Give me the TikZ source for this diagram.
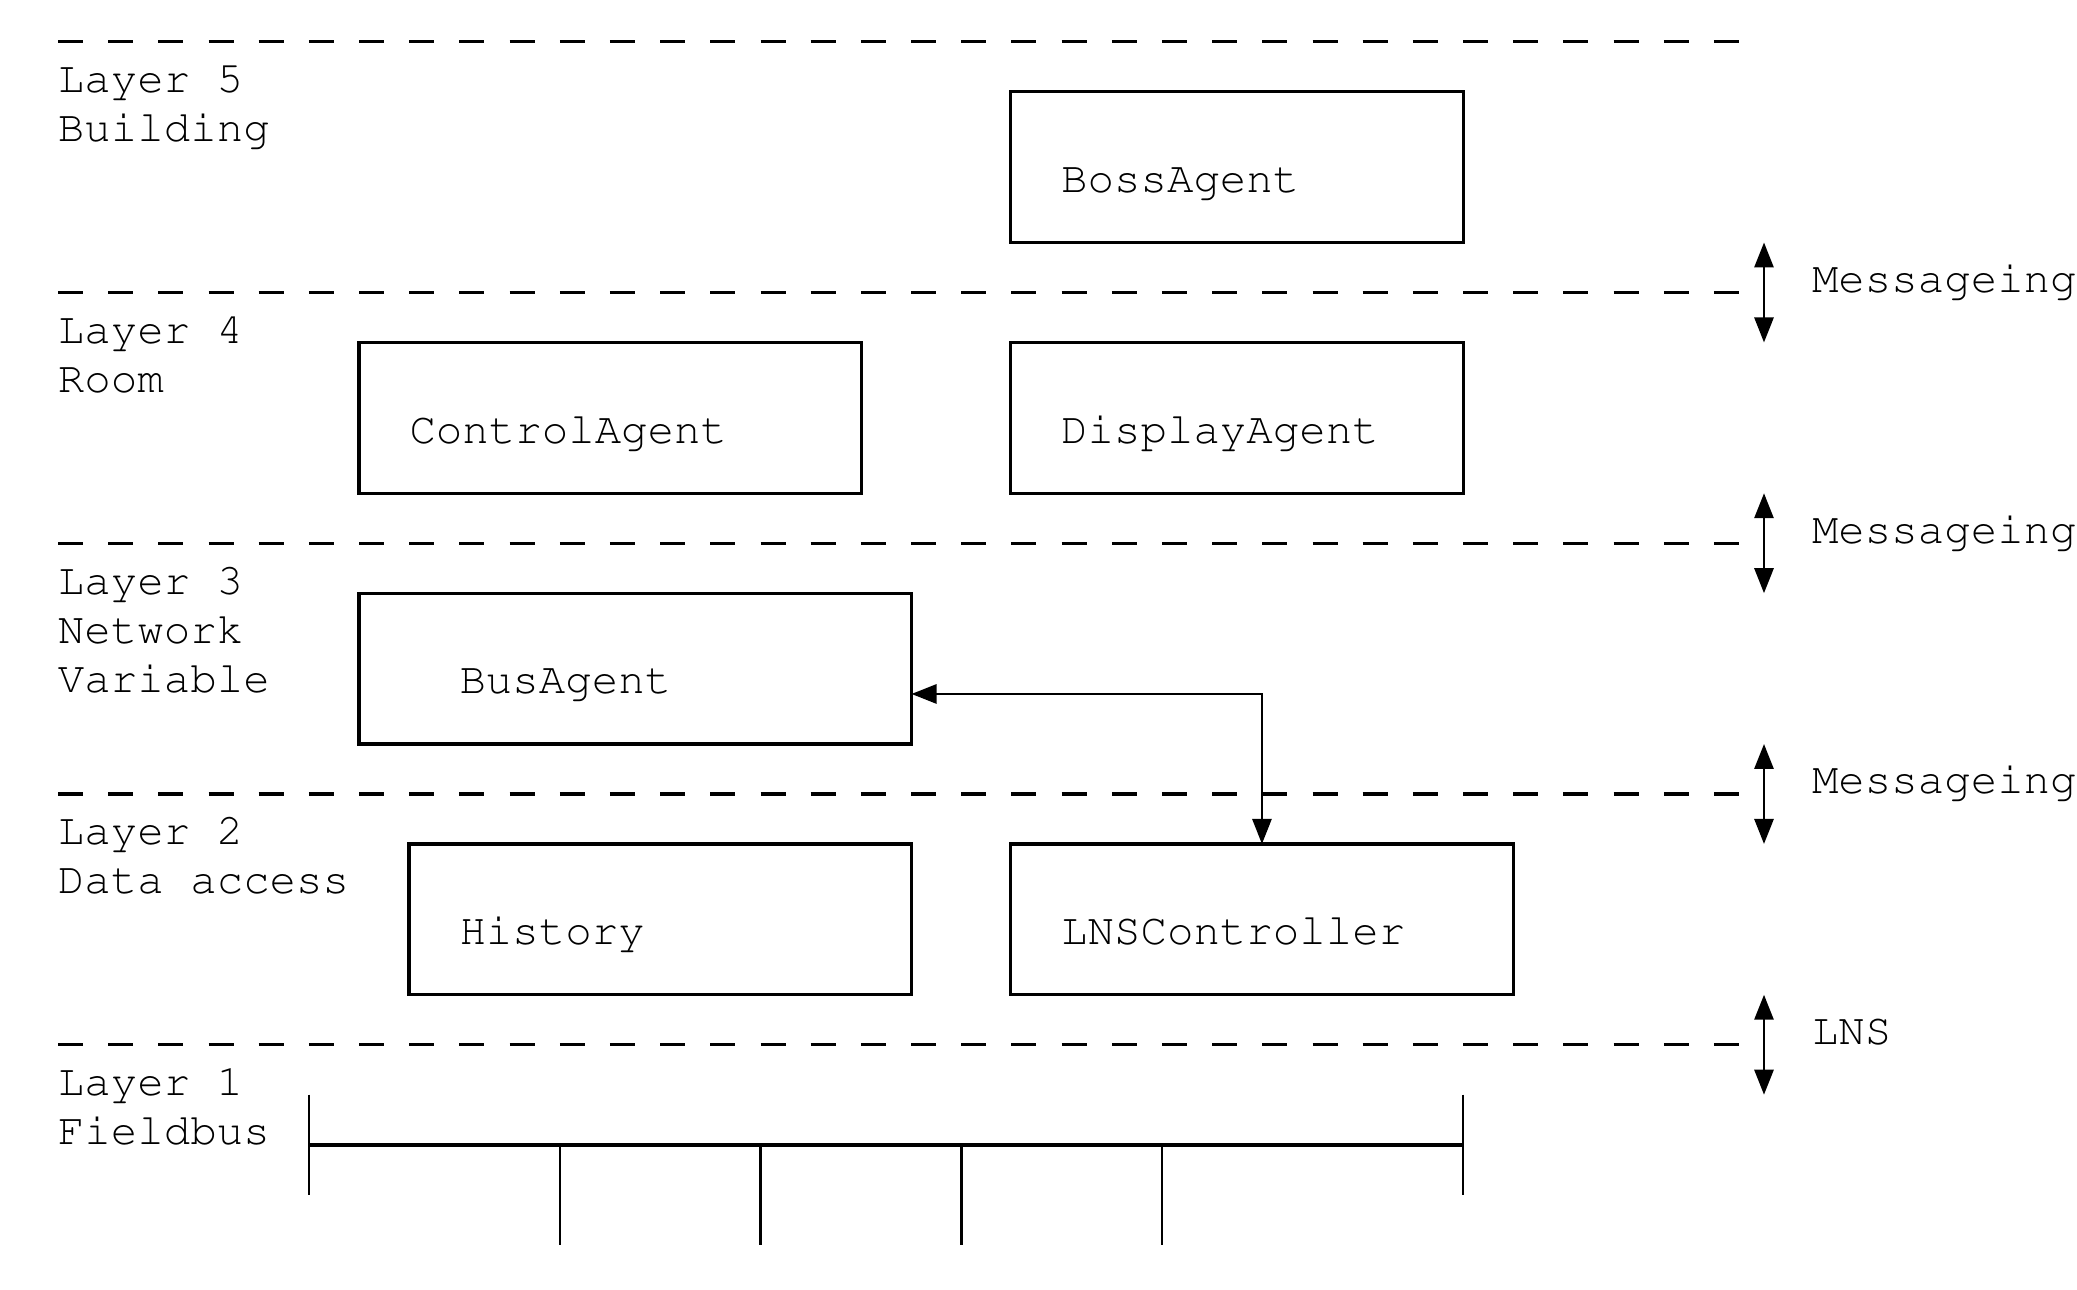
\documentclass[tikz,border=0pt]{standalone}
\usepackage[T1]{fontenc}
\usepackage{tikz}
\usetikzlibrary{arrows.meta,positioning}

% Courier for all labels
\newcommand{\courtxt}{\fontencoding{T1}\fontfamily{pcr}\fontsize{12.55}{14}\selectfont}

\begin{document}
\begin{tikzpicture}[
    >={Triangle[length=2.5mm,width=1.9mm]},
    layerline/.style={line width=0.95pt, dash pattern=on 0.25cm off 0.2518cm},
    agent/.style={draw, rectangle, line width=0.9pt, minimum height=1.5075cm, inner sep=0pt, outer sep=0pt},
    txt/.style={font=\courtxt, anchor=base west, inner sep=0pt, outer sep=0pt},
    link/.style={<->, line width=0.8pt},
  ]
  \useasboundingbox (0,0) rectangle (20.77,-12.89);

  % layer borders
  \foreach \y in {0.417,2.9245,5.432,7.9395,10.447}
    \draw[layerline] (0.58,-\y) -- (17.39,-\y);

  % layer names
  \node[txt] (l5a) at (0.58,-0.927)  {Layer 5};
  \node[txt] (l5b) at (0.58,-1.417)  {Building};
  \node[txt] (l4a) at (0.58,-3.4345) {Layer 4};
  \node[txt] (l4b) at (0.58,-3.9245) {Room};
  \node[txt] (l3a) at (0.58,-5.942)  {Layer 3};
  \node[txt] (l3b) at (0.58,-6.432)  {Network};
  \node[txt] (l3c) at (0.58,-6.927)  {Variable};
  \node[txt] (l2a) at (0.58,-8.4495) {Layer 2};
  \node[txt] (l2b) at (0.58,-8.9395) {Data access};
  \node[txt] (l1a) at (0.58,-10.957) {Layer 1};
  \node[txt] (l1b) at (0.58,-11.447) {Fieldbus};

  % agents
  \node[agent, minimum width=4.526cm] (boss)    at (12.37,-1.6708)   {};
  \node[agent, minimum width=5.025cm] (control) at (6.1025,-4.1783)  {};
  \node[agent, minimum width=4.526cm] (display) at (12.37,-4.1783)   {};
  \node[agent, minimum width=5.525cm] (bus)     at (6.3525,-6.6858)  {};
  \node[agent, minimum width=5.025cm] (history) at (6.6025,-9.1933)  {};
  \node[agent, minimum width=5.025cm] (lns)     at (12.6195,-9.1933) {};

  \node[txt] (bossname)    at ([shift={(0.505,0.5)}]boss.south west)    {BossAgent};
  \node[txt] (controlname) at ([shift={(0.505,0.5)}]control.south west) {ControlAgent};
  \node[txt] (displayname) at ([shift={(0.505,0.5)}]display.south west) {DisplayAgent};
  \node[txt] (busname)     at ([shift={(1.005,0.5)}]bus.south west)     {BusAgent};
  \node[txt] (historyname) at ([shift={(0.505,0.5)}]history.south west) {History};
  \node[txt] (lnsname)     at ([shift={(0.505,0.5)}]lns.south west)     {LNSController};

  \draw[link] (busname.base -| bus.east) -| (lns.north);

  % interfaces between layers
  \foreach \y/\t [count=\i] in {2.9245/Messageing,5.432/Messageing,7.9395/Messageing,10.447/LNS} {
    \draw[link] (17.64,-\y+0.5) -- (17.64,-\y-0.5);
    \node[txt] (iface\i) at (18.12,-\y) {\t};
  }

  % fieldbus
  \draw[line width=1.1pt] (3.09,-11.45) -- (14.63,-11.45);
  \draw[line width=0.75pt] (3.09,-10.947) -- (3.09,-11.95);
  \draw[line width=0.75pt] (14.63,-10.947) -- (14.63,-11.95);
  \foreach \x in {5.6,7.607,9.613,11.62}
    \draw[line width=0.75pt] (\x,-11.45) -- (\x,-12.45);

\end{tikzpicture}
\end{document}
